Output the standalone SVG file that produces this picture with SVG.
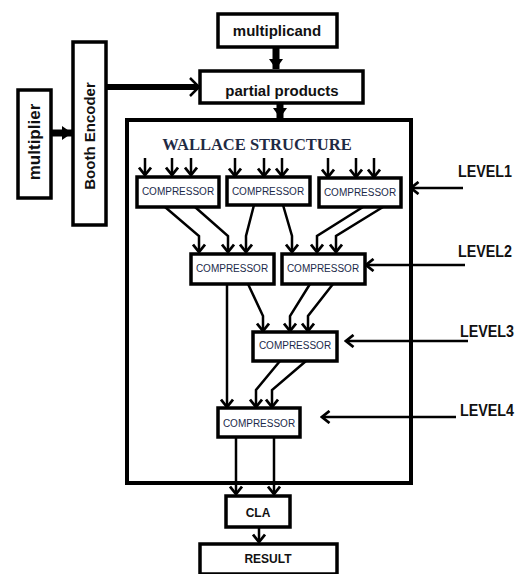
<svg xmlns="http://www.w3.org/2000/svg" width="521" height="574" viewBox="0 0 521 574">
<style>
.box{fill:#fff;stroke:#000;stroke-width:3.5}
.lbl{font-family:"Liberation Sans",Arial,sans-serif;font-weight:bold;fill:#111;text-anchor:middle}
.cmp{font-family:"Liberation Sans",Arial,sans-serif;font-size:10px;fill:#1b2a4a;text-anchor:middle}
.lvl{font-family:"Liberation Sans",Arial,sans-serif;font-weight:bold;font-size:16px;fill:#111}
.c{fill:none;stroke:#000;stroke-width:2.5;marker-end:url(#chev)}
.thick{fill:none;stroke:#000;stroke-width:7;marker-end:url(#tri)}
</style>
<defs>
<marker id="chev" markerUnits="userSpaceOnUse" viewBox="-10 -7 12 14" markerWidth="12" markerHeight="14" refX="0" refY="0" orient="auto">
<path d="M-7.5,-6 L0,0 L-7.5,6" fill="none" stroke="#000" stroke-width="2.8"/>
</marker>
<marker id="tri" markerUnits="userSpaceOnUse" viewBox="-12 -8 14 16" markerWidth="14" markerHeight="16" refX="0" refY="0" orient="auto">
<path d="M-10,-7 L0,0 L-10,7 Z" fill="#000"/>
</marker>
</defs>

<g id="connectors">
<path class="thick" d="M276,47 L276,69"/>
<path class="thick" d="M280,103 L280,118"/>
<path class="thick" d="M51,133 L72,133"/>
<path d="M106,87 L198,87" fill="none" stroke="#000" stroke-width="6"/>
<path d="M190,78 L199,87 L190,96" fill="none" stroke="#000" stroke-width="2.5"/>
<path class="c" d="M145,158 L145,175"/>
<path class="c" d="M172,158 L172,175"/>
<path class="c" d="M191,158 L191,175"/>
<path class="c" d="M235,158 L235,176"/>
<path class="c" d="M264,158 L264,176"/>
<path class="c" d="M282,158 L282,176"/>
<path class="c" d="M328,158 L328,177"/>
<path class="c" d="M356,158 L356,177"/>
<path class="c" d="M374,158 L374,177"/>
<path class="c" d="M165,207 L199,236 L199,252"/>
<path class="c" d="M195,207 L228,236 L228,252"/>
<path class="c" d="M254,205 L246,236 L246,252"/>
<path class="c" d="M283,205 L292,236 L292,252"/>
<path class="c" d="M363,207 L317,236 L317,252"/>
<path class="c" d="M383,207 L336,236 L336,252"/>
<path class="c" d="M248,284 L263,316 L263,331"/>
<path class="c" d="M310,284 L290,316 L290,331"/>
<path class="c" d="M333,284 L308,316 L308,331"/>
<path class="c" d="M227,284 L227,407"/>
<path class="c" d="M280,361 L256,390 L256,407"/>
<path class="c" d="M306,361 L272,390 L272,407"/>
<path class="c" d="M236,437 L236,494"/>
<path class="c" d="M274,437 L274,494"/>
<path class="c" d="M259,527 L259,542"/>
<path class="c" d="M463,188 L411,188"/>
<path class="c" d="M465,265 L366,265"/>
<path class="c" d="M468,341 L346,341"/>
<path class="c" d="M456,417 L322,417"/>
</g>

<g id="wallace">
<rect x="127" y="120" width="284" height="363" fill="none" stroke="#000" stroke-width="4"/>
<text x="257" y="150" font-family="'Liberation Serif','Times New Roman',serif" font-weight="bold" font-size="16.5" fill="#1f2a44" text-anchor="middle">WALLACE STRUCTURE</text>
</g>

<g id="multiplicand"><rect class="box" x="218" y="14" width="119" height="33"/><text class="lbl" x="277" y="36" font-size="15">multiplicand</text></g>
<g id="partial"><rect class="box" x="200" y="71" width="163" height="32"/><text class="lbl" x="282" y="96" font-size="15">partial products</text></g>
<g id="booth"><rect class="box" x="73" y="42" width="33" height="183"/><text class="lbl" transform="translate(95,136) rotate(-90)" font-size="15">Booth Encoder</text></g>
<g id="multiplier"><rect class="box" x="18" y="90" width="33" height="108"/><text class="lbl" transform="translate(40,142) rotate(-90)" font-size="17" fill="#1a1a33">multiplier</text></g>

<g id="comp1"><rect class="box" x="137" y="177" width="82" height="30"/><text class="cmp" x="178" y="195">COMPRESSOR</text></g>
<g id="comp2"><rect class="box" x="227" y="177" width="83" height="28"/><text class="cmp" x="268" y="195">COMPRESSOR</text></g>
<g id="comp3"><rect class="box" x="319" y="178" width="82" height="29"/><text class="cmp" x="360" y="196">COMPRESSOR</text></g>
<g id="comp4"><rect class="box" x="191" y="254" width="83" height="30"/><text class="cmp" x="232" y="272">COMPRESSOR</text></g>
<g id="comp5"><rect class="box" x="282" y="254" width="83" height="30"/><text class="cmp" x="323" y="272">COMPRESSOR</text></g>
<g id="comp6"><rect class="box" x="253" y="332" width="84" height="29"/><text class="cmp" x="295" y="349">COMPRESSOR</text></g>
<g id="comp7"><rect class="box" x="218" y="408" width="82" height="29"/><text class="cmp" x="259" y="427">COMPRESSOR</text></g>

<g id="cla"><rect class="box" x="226" y="496" width="64" height="31"/><text class="lbl" x="258" y="517" font-size="12">CLA</text></g>
<g id="result"><rect class="box" x="200" y="544" width="137" height="30"/><text class="lbl" x="268" y="563" font-size="12">RESULT</text></g>

<g id="levels">
<text class="lvl" x="458" y="177" textLength="54" lengthAdjust="spacingAndGlyphs">LEVEL1</text>
<text class="lvl" x="458" y="257" textLength="54" lengthAdjust="spacingAndGlyphs">LEVEL2</text>
<text class="lvl" x="460" y="337" textLength="54" lengthAdjust="spacingAndGlyphs">LEVEL3</text>
<text class="lvl" x="460" y="416" textLength="54" lengthAdjust="spacingAndGlyphs">LEVEL4</text>
</g>
</svg>
